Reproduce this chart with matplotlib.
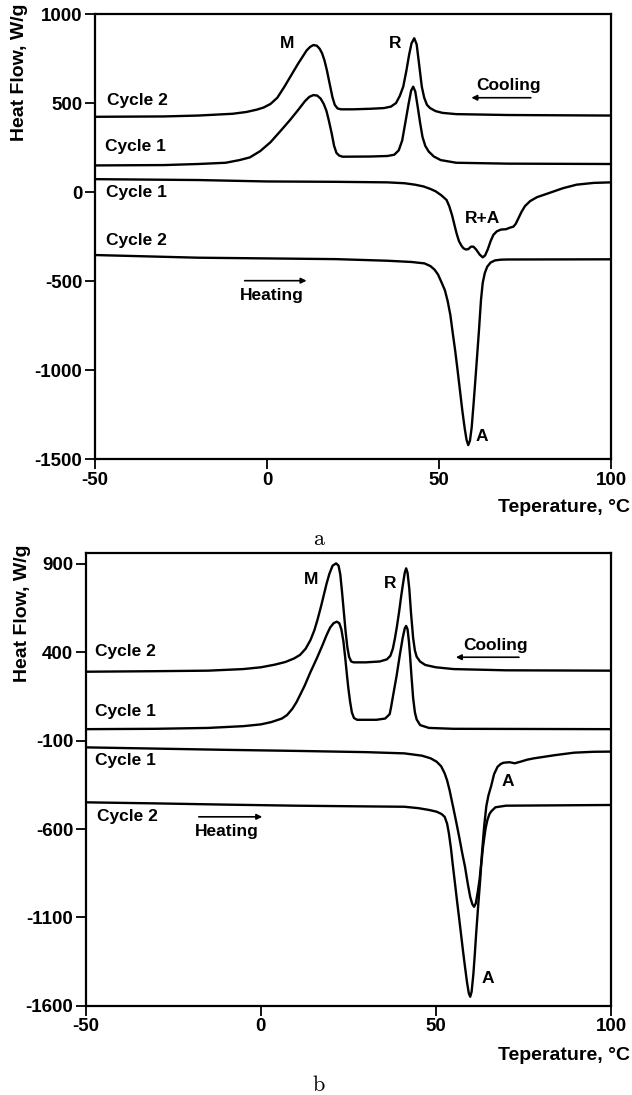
import matplotlib
matplotlib.use('Agg')
import matplotlib.pyplot as plt

plt.rcParams['font.family'] = ['Liberation Sans', 'DejaVu Sans']
plt.rcParams['font.weight'] = 'bold'
plt.rcParams['axes.labelweight'] = 'bold'
plt.rcParams['axes.unicode_minus'] = False
plt.rcParams['mathtext.fontset'] = 'cm'

# ---- panel a (temperature in C, heat flow in W/g) ----
a_cool2_T = [-50, -30, -20, -10, -6, -3, -1, 1, 3, 5, 7, 9, 10.5, 11.5, 12.5, 13.5, 14.5, 15.3, 16,
             16.7, 17.4, 18.2, 19, 19.7, 20.5, 21.5, 25, 30, 34, 36, 37.5, 38.6, 39.6, 40.5, 41.3,
             42, 42.8, 43.5, 44.2, 45, 45.7, 46.5, 47.4, 49, 51, 55, 70, 100]
a_cool2_Q = [423, 425, 430, 440, 450, 463, 475, 495, 530, 590, 655, 720, 765, 795, 815, 826, 822, 805, 780,
             740, 685, 610, 535, 490, 470, 465, 465, 468, 472, 480, 500, 540, 592, 680, 770,
             835, 864, 830, 720, 592, 530, 490, 472, 455, 445, 438, 433, 430]

a_cool1_T = [-50, -30, -20, -12, -8, -5, -2, 1, 4, 6.7, 9, 11, 12.3, 13.5, 14.6, 15.6, 16.5, 17.3, 18,
             18.8, 19.5, 20.2, 21, 22, 30, 35, 37, 38.3, 39.3, 40.3, 41.2, 41.9, 42.5, 43.1, 43.8,
             44.5, 45.2, 46, 47, 48.5, 50.5, 55, 70, 100]
a_cool1_Q = [150, 152, 158, 165, 180, 195, 230, 280, 345, 405, 460, 510, 535, 545, 542, 525, 495, 455, 400,
             330, 260, 220, 205, 199, 200, 203, 210, 235, 290, 400, 500, 570, 592, 565, 480,
             390, 310, 260, 228, 200, 180, 165, 160, 158]

a_heat1_T = [-50, -20, 0, 20, 35, 40, 43, 45.5, 47.5, 49, 50.7, 52.2, 53, 53.8, 54.5, 55.1, 55.8, 56.5,
             57.1, 57.8, 58.5, 59.3, 60, 60.8, 61.8, 62.7, 63.4, 64.2, 65, 65.8, 66.8, 68, 69.5, 70.5,
             71.6, 72.3, 73, 74, 75, 76.5, 78.5, 82, 86, 90, 95, 100]
a_heat1_Q = [73, 68, 60, 58, 55, 50, 42, 32, 18, 5, -18, -44, -80, -130, -185, -231, -275, -300,
             -315, -322, -320, -306, -306, -322, -350, -366, -355, -320, -275, -240, -220, -210, -208, -200,
             -194, -178, -150, -110, -78, -50, -28, -5, 22, 42, 52, 55]

a_heat2_T = [-50, -40, -20, 0, 20, 35, 42, 45.8, 47.5, 48.7, 49.7, 50.7, 51.7, 52.5, 53.3, 54, 54.7,
             55.4, 56.1, 56.8, 57.5, 58, 58.5, 59, 59.5, 60, 60.5, 61, 61.6, 62.2, 62.7, 63.3, 64, 65,
             66.3, 68, 70, 100]
a_heat2_Q = [-353, -358, -368, -372, -376, -385, -392, -400, -415, -435, -462, -505, -550, -610, -690,
             -792, -890, -1000, -1115, -1230, -1330, -1390, -1420, -1395, -1320, -1200, -1072, -940,
             -780, -606, -510, -455, -419, -395, -383, -379, -378, -377]

# ---- panel b ----
b_cool2_T = [-50, -30, -15, -5, 0, 4, 7, 9.5, 11.2, 12.8, 14.2, 15.3, 16.2, 17.2, 18, 18.8, 19.6, 20.5,
             21.5, 22.2, 22.7, 23.2, 23.7, 24.2, 24.7, 25.2, 25.8, 26.5, 30, 34, 36, 37, 37.7, 38.3,
             38.9, 39.5, 40.1, 40.7, 41.1, 41.5, 41.9, 42.4, 42.9, 43.5, 44, 44.5, 45.5, 47, 50, 55,
             70, 100]
b_cool2_Q = [290, 293, 296, 305, 315, 330, 345, 365, 385, 420, 470, 525, 585, 660, 725, 790, 845, 890,
             903, 890, 840, 740, 630, 520, 430, 375, 348, 343, 343, 348, 360, 380, 420, 479,
             550, 630, 720, 800, 850, 875, 850, 760, 620, 480, 410, 375, 347, 328, 315, 305,
             298, 296]

b_cool1_T = [-50, -30, -15, -5, 0, 3, 6, 7.5, 9, 10.2, 11.2, 12.5, 14, 16, 17.5, 18.8, 19.8, 20.8, 21.7,
             22.4, 23, 23.6, 24.1, 24.6, 25, 25.5, 26, 26.6, 27.5, 33, 35.5, 36.8, 37.2, 37.8, 38.8,
             39.7, 40.5, 41.1, 41.5, 41.9, 42.3, 42.6, 43, 43.5, 44, 44.5, 45.5, 48, 55, 100]
b_cool1_Q = [-35, -33, -28, -18, -8, 5, 25, 45, 80, 118, 158, 210, 280, 366, 435, 498, 540, 565, 573,
             565, 530, 460, 370, 270, 196, 120, 60, 28, 18, 18, 25, 50, 90, 158, 270,
             385, 480, 535, 549, 530, 460, 385, 270, 140, 60, 20, -12, -28, -33, -35]

b_heat1_T = [-50, -30, -10, 10, 30, 41, 46, 48.5, 50.2, 51.5, 52.5, 53.2, 53.9, 54.9, 55.8, 56.7, 57.5,
             58.3, 59.1, 59.8, 60.4, 60.9, 61.4, 62, 62.5, 62.9, 63.3, 63.8, 64.4, 65, 65.8, 66.6,
             67.6, 68.5, 69.3, 71, 72.5, 74, 76, 78, 84, 89.5, 95, 100]
b_heat1_Q = [-138, -145, -152, -158, -165, -172, -185, -200, -219, -245, -285, -325, -380, -474, -560,
             -650, -735, -813, -910, -985, -1025, -1040, -1020, -950, -880, -800, -700, -580, -470,
             -410, -355, -290, -248, -232, -225, -222, -228, -220, -208, -200, -182, -168, -163, -162]

b_heat2_T = [-50, -30, -10, 10, 30, 41, 45, 48, 50.2, 51.6, 52.5, 53.2, 53.7, 54.3, 54.8, 55.4, 56,
             56.6, 57.2, 57.8, 58.3, 58.9, 59.4, 59.8, 60.2, 60.7, 61.1, 61.5, 61.9, 62.2, 62.6, 62.9,
             63.4, 63.8, 64.2, 64.7, 65.3, 65.8, 67, 70, 100]
b_heat2_Q = [-449, -455, -462, -468, -472, -474, -482, -492, -502, -515, -531, -570, -624, -710, -800,
             -900, -1002, -1100, -1200, -1300, -1379, -1470, -1530, -1549, -1520, -1420, -1310, -1190,
             -1080, -1000, -900, -813, -710, -650, -595, -549, -515, -500, -477, -468, -464]

xticks = [-50, 0, 50, 100]
a_yticks = [1000, 500, 0, -500, -1000, -1500]
b_yticks = [900, 400, -100, -600, -1100, -1600]

fig = plt.figure(figsize=(6.32, 10.95), dpi=100)
ax1 = fig.add_axes([0.1503, 0.5805, 0.8165, 0.4067])
ax2 = fig.add_axes([0.1356, 0.0815, 0.8312, 0.4132])


def style(ax, yticks, ylim, ylab_xy, xlab_xy):
    ax.set_xlim(-50, 100)
    ax.set_ylim(*ylim)
    ax.set_xticks(xticks)
    ax.set_yticks(yticks)
    for s in ax.spines.values():
        s.set_linewidth(1.6)
    ax.tick_params(direction='out', length=7, width=1.3, labelsize=13.5, pad=2)
    ax.set_ylabel('Heat Flow, W/g', fontsize=14, va='center')
    ax.yaxis.set_label_coords(*ylab_xy)
    ax.set_xlabel('Teperature, °C', fontsize=14, ha='right', va='center')
    ax.xaxis.set_label_coords(*xlab_xy)


lw = 1.7
for T, Q in [(a_cool2_T, a_cool2_Q), (a_cool1_T, a_cool1_Q), (a_heat1_T, a_heat1_Q), (a_heat2_T, a_heat2_Q)]:
    ax1.plot(T, Q, color='black', lw=lw)
for T, Q in [(b_cool2_T, b_cool2_Q), (b_cool1_T, b_cool1_Q), (b_heat1_T, b_heat1_Q), (b_heat2_T, b_heat2_Q)]:
    ax2.plot(T, Q, color='black', lw=lw)

style(ax1, a_yticks, (-1500, 1000), (-0.147, 0.870), (1.037, -0.107))
style(ax2, b_yticks, (-1600, 960), (-0.121, 0.868), (1.036, -0.109))

# labels panel a
fs = 12.5
ax1.text(-46.6, 517, 'Cycle 2', fontsize=fs, va='center')
ax1.text(-47.1, 255, 'Cycle 1', fontsize=fs, va='center')
ax1.text(-46.8, -3, 'Cycle 1', fontsize=fs, va='center')
ax1.text(-46.8, -269, 'Cycle 2', fontsize=fs, va='center')
ax1.text(5.7, 832, 'M', fontsize=fs, ha='center', va='center')
ax1.text(37.2, 832, 'R', fontsize=fs, ha='center', va='center')
ax1.text(62.5, -147, 'R+A', fontsize=fs, ha='center', va='center')
ax1.text(62.3, -1369, 'A', fontsize=fs, ha='center', va='center')
ax1.text(70.1, 601, 'Cooling', fontsize=fs, ha='center', va='center')
ax1.annotate('', xy=(58.6, 530), xytext=(77.5, 530),
             arrowprops=dict(arrowstyle='-|>', lw=1.2, color='black', mutation_scale=8))
ax1.text(1.4, -578, 'Heating', fontsize=fs, ha='center', va='center')
ax1.annotate('', xy=(12.3, -497), xytext=(-7.3, -497),
             arrowprops=dict(arrowstyle='-|>', lw=1.2, color='black', mutation_scale=8))

# labels panel b
ax2.text(-47.3, 403, 'Cycle 2', fontsize=fs, va='center')
ax2.text(-47.3, 64, 'Cycle 1', fontsize=fs, va='center')
ax2.text(-47.3, -214, 'Cycle 1', fontsize=fs, va='center')
ax2.text(-46.8, -527, 'Cycle 2', fontsize=fs, va='center')
ax2.text(14.3, 809, 'M', fontsize=fs, ha='center', va='center')
ax2.text(36.9, 790, 'R', fontsize=fs, ha='center', va='center')
ax2.text(70.4, -332, 'A', fontsize=fs, ha='center', va='center')
ax2.text(64.9, -1445, 'A', fontsize=fs, ha='center', va='center')
ax2.text(67, 441, 'Cooling', fontsize=fs, ha='center', va='center')
ax2.annotate('', xy=(54.9, 372), xytext=(74.5, 372),
             arrowprops=dict(arrowstyle='-|>', lw=1.2, color='black', mutation_scale=8))
ax2.text(-9.8, -615, 'Heating', fontsize=fs, ha='center', va='center')
ax2.annotate('', xy=(1.2, -531), xytext=(-18.5, -531),
             arrowprops=dict(arrowstyle='-|>', lw=1.2, color='black', mutation_scale=8))

fig.text(0.505, 1 - 545 / 1095, r'$\mathrm{a}$', fontsize=16, ha='center', va='baseline')
fig.text(0.505, 1 - 1091 / 1095, r'$\mathrm{b}$', fontsize=16, ha='center', va='baseline')

fig.savefig('out.png', dpi=100)
